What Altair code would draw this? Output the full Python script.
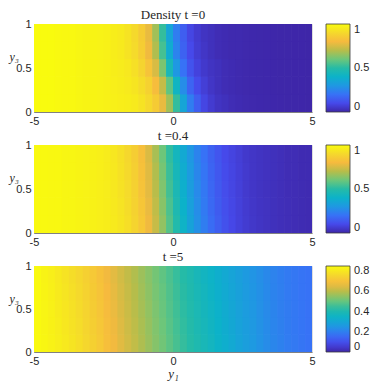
import altair as alt
import pandas as pd

# ---- data ----
x_edges = [-5 + 0.25 * i for i in range(41)]
y_edges = [0.0, 0.2, 0.4, 0.6, 0.8, 1.0]

# panel t=0, rows bottom -> top
p1_rows = [
    [1.0,1.0,1.0,0.995,0.99,0.99,0.985,0.98,0.98,0.975,
     0.97,0.967,0.963,0.96,0.95,0.93,0.90,0.855,0.78,0.67,
     0.52,0.35,0.23,0.15,0.09,0.06,0.04,0.03,0.02,0.015,
     0.01,0.008,0.006,0.005,0.004,0.003,0.002,0.002,0.001,0.0],
    [1.0,1.0,1.0,0.995,0.99,0.99,0.985,0.98,0.98,0.975,
     0.97,0.965,0.96,0.95,0.935,0.91,0.875,0.81,0.72,0.58,
     0.42,0.27,0.165,0.105,0.07,0.045,0.03,0.02,0.015,0.01,
     0.008,0.006,0.005,0.004,0.003,0.002,0.002,0.001,0.001,0.0],
    [1.0,1.0,1.0,0.995,0.99,0.99,0.985,0.98,0.98,0.975,
     0.97,0.962,0.955,0.945,0.92,0.885,0.83,0.75,0.62,0.45,
     0.30,0.20,0.125,0.08,0.055,0.04,0.03,0.02,0.015,0.01,
     0.008,0.006,0.005,0.004,0.003,0.002,0.002,0.001,0.001,0.0],
    [1.0,1.0,1.0,0.995,0.99,0.99,0.985,0.98,0.98,0.975,
     0.97,0.96,0.95,0.93,0.905,0.86,0.79,0.69,0.545,0.375,
     0.245,0.16,0.10,0.065,0.045,0.03,0.02,0.015,0.01,0.01,
     0.008,0.006,0.005,0.004,0.003,0.002,0.002,0.001,0.001,0.0],
    [1.0,1.0,1.0,0.995,0.99,0.99,0.985,0.98,0.98,0.975,
     0.97,0.96,0.95,0.93,0.90,0.855,0.78,0.67,0.52,0.35,
     0.23,0.15,0.09,0.06,0.04,0.03,0.02,0.015,0.01,0.01,
     0.008,0.006,0.005,0.004,0.003,0.002,0.002,0.001,0.001,0.0],
]

# panel t=0.4
p2_rows = [
    [0.995,0.995,0.99,0.99,0.985,0.985,0.98,0.975,0.97,0.965,
     0.96,0.95,0.935,0.915,0.885,0.845,0.79,0.725,0.65,0.565,
     0.485,0.41,0.34,0.28,0.23,0.185,0.15,0.12,0.095,0.078,
     0.062,0.05,0.042,0.036,0.03,0.026,0.022,0.02,0.016,0.015],
    [0.995,0.995,0.99,0.99,0.985,0.985,0.98,0.975,0.97,0.965,
     0.959,0.948,0.931,0.91,0.879,0.838,0.781,0.714,0.637,0.553,
     0.472,0.399,0.33,0.271,0.222,0.179,0.145,0.115,0.093,0.076,
     0.06,0.048,0.041,0.036,0.03,0.026,0.022,0.02,0.016,0.015],
    [0.995,0.995,0.99,0.99,0.985,0.985,0.98,0.975,0.97,0.965,
     0.958,0.945,0.927,0.905,0.873,0.83,0.772,0.703,0.625,0.54,
     0.46,0.388,0.32,0.262,0.215,0.173,0.14,0.11,0.09,0.074,
     0.058,0.047,0.04,0.035,0.03,0.026,0.021,0.02,0.016,0.015],
    [0.995,0.995,0.99,0.99,0.985,0.985,0.98,0.975,0.97,0.965,
     0.957,0.943,0.923,0.90,0.867,0.823,0.765,0.692,0.612,0.527,
     0.447,0.375,0.31,0.253,0.207,0.166,0.135,0.105,0.088,0.072,
     0.057,0.046,0.04,0.035,0.03,0.025,0.02,0.02,0.015,0.015],
    [0.995,0.995,0.99,0.99,0.985,0.985,0.98,0.975,0.97,0.965,
     0.955,0.94,0.92,0.895,0.86,0.815,0.755,0.68,0.60,0.515,
     0.435,0.365,0.30,0.245,0.20,0.16,0.13,0.10,0.085,0.07,
     0.055,0.045,0.04,0.035,0.03,0.025,0.02,0.02,0.015,0.015],
]

# panel t=5
p3_rows = [
    [0.845,0.838,0.828,0.817,0.804,0.792,0.778,0.76,0.74,0.72,
     0.695,0.675,0.652,0.63,0.608,0.585,0.562,0.538,0.515,0.49,
     0.465,0.443,0.422,0.402,0.383,0.365,0.344,0.326,0.309,0.29,
     0.275,0.26,0.243,0.228,0.215,0.204,0.192,0.185,0.177,0.17],
    [0.845,0.836,0.826,0.814,0.801,0.788,0.774,0.755,0.735,0.715,
     0.69,0.67,0.647,0.625,0.603,0.58,0.557,0.533,0.51,0.485,
     0.46,0.438,0.417,0.397,0.378,0.36,0.34,0.322,0.305,0.287,
     0.272,0.257,0.241,0.226,0.213,0.202,0.191,0.184,0.176,0.17],
    [0.845,0.834,0.824,0.811,0.798,0.784,0.77,0.75,0.73,0.71,
     0.685,0.665,0.642,0.62,0.598,0.575,0.552,0.528,0.505,0.48,
     0.455,0.433,0.412,0.392,0.373,0.355,0.336,0.318,0.301,0.284,
     0.269,0.254,0.239,0.224,0.211,0.2,0.19,0.183,0.176,0.17],
    [0.845,0.832,0.822,0.808,0.794,0.779,0.765,0.745,0.725,0.705,
     0.68,0.66,0.637,0.615,0.593,0.57,0.547,0.523,0.5,0.475,
     0.45,0.428,0.407,0.387,0.368,0.35,0.331,0.314,0.297,0.281,
     0.266,0.251,0.237,0.222,0.209,0.199,0.189,0.182,0.175,0.17],
    [0.845,0.83,0.82,0.805,0.79,0.775,0.76,0.74,0.72,0.70,
     0.675,0.655,0.632,0.61,0.588,0.565,0.542,0.518,0.495,0.47,
     0.445,0.423,0.402,0.382,0.363,0.345,0.327,0.31,0.293,0.278,
     0.263,0.248,0.234,0.22,0.207,0.197,0.188,0.181,0.175,0.17],
]

titles = ["Density t =0", "t =0.4", "t =5"]
cmax = [1.0, 1.0, 0.85]
cbar_ticks = [[0, 0.5, 1], [0, 0.5, 1], [0, 0.2, 0.4, 0.6, 0.8]]
x_ticks = [-5, 0, 5]
y_ticks = [0, 0.5, 1]

parula = ["#3e26a8", "#4649ea", "#3772f6", "#1f98e2", "#0cb2c9", "#26bba6",
          "#6dc67a", "#b7bd4a", "#f6ba3e", "#f5d92c", "#f9fb0e"]

SANS = "Liberation Sans"
SERIF = "Liberation Serif"
TXT = "#262626"
W = 278


def grid(rows):
    recs = []
    for j, row in enumerate(rows):
        for i, v in enumerate(row):
            recs.append(dict(x=x_edges[i], x2=x_edges[i + 1],
                             y=y_edges[j], y2=y_edges[j + 1], v=v))
    return pd.DataFrame(recs)


def panel(rows, title, vmax, cticks, last, h):
    dom = [vmax * k / 10 for k in range(11)]
    cs = alt.Scale(domain=dom, range=parula, interpolate="rgb")
    xaxis = alt.Axis(values=x_ticks, ticks=False, grid=False, labelPadding=3,
                     labelFlush=False,
                     labelExpr="datum.value + ''", labelFont=SANS, labelFontSize=11,
                     labelColor=TXT, domainColor="#6a6a6a", domainWidth=0.8,
                     title="y₁" if last else None, titleFont=SERIF, titleFontStyle="italic",
                     titleFontWeight="normal", titleFontSize=13, titleColor=TXT, titlePadding=1)
    yaxis = alt.Axis(values=y_ticks, ticks=False, grid=False, labelPadding=3,
                     labelFlush=False,
                     labelExpr="datum.value + ''",
                     labelFont=SANS, labelFontSize=11, labelColor=TXT,
                     domainColor="#6a6a6a", domainWidth=0.8,
                     title="y₃", titleAngle=0, titleAlign="left", titleBaseline="alphabetic",
                     titleX=-25, titleY=36, titleFont=SERIF, titleFontStyle="italic",
                     titleFontWeight="normal", titleFontSize=12, titleColor=TXT)
    return alt.Chart(grid(rows)).mark_rect(x2Offset=0.7, y2Offset=-0.7, clip=True).encode(
        x=alt.X("x:Q", scale=alt.Scale(domain=[-5, 5], nice=False, zero=False), axis=xaxis),
        x2="x2:Q",
        y=alt.Y("y:Q", scale=alt.Scale(domain=[0, 1], nice=False, zero=False), axis=yaxis),
        y2="y2:Q",
        color=alt.Color("v:Q", scale=cs, legend=alt.Legend(
            type="gradient", values=cticks, title=None, gradientLength=h,
            gradientThickness=24, offset=14, padding=0, labelBaseline="middle",
            labelOffset=4, labelExpr="datum.value + ''",
            labelFont=SANS, labelFontSize=11, labelColor=TXT,
            gradientStrokeColor="#3a3a3a", gradientStrokeWidth=0.8)),
    ).properties(width=W, height=h,
                 title=alt.TitleParams(title, font=SERIF, fontSize=13, fontWeight="normal",
                                       color=TXT, offset=-4))


charts = [panel(r, t, m, c, k == 2, h) for k, (r, t, m, c, h) in
          enumerate(zip([p1_rows, p2_rows, p3_rows], titles, cmax, cbar_ticks, [88, 88, 86]))]

chart = alt.vconcat(*charts, spacing=2).resolve_scale(
    color="independent"
).resolve_legend(color="independent").properties(
    padding={"left": 0, "top": 0, "right": 0, "bottom": 0}
).configure_view(stroke="#c8c8c8", strokeWidth=0.6).configure(background="white")

chart.save("out.html", embed_options={"renderer": "svg", "actions": False})
